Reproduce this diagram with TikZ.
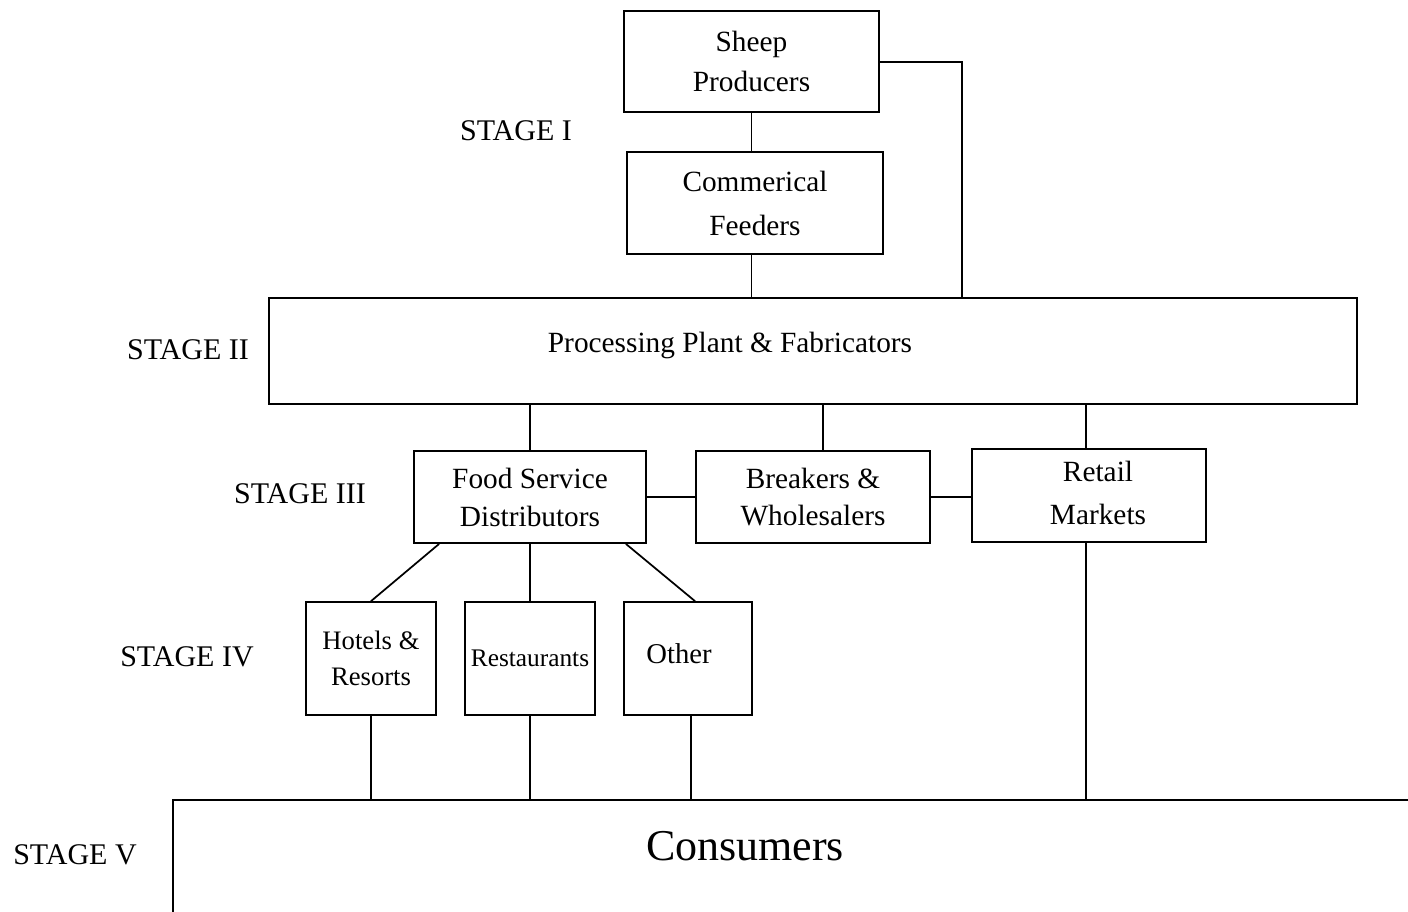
\documentclass[tikz,border=0pt]{standalone}
\usepackage{fontspec}
\setmainfont{Liberation Serif}
\usetikzlibrary{calc}
\begin{document}
\begin{tikzpicture}[x=0.75pt,y=-0.75pt,
  line width=1.3pt,
  box/.style={draw,line width=1.3pt,inner sep=0pt,align=center,rectangle},
  txt/.style={inner sep=0pt,align=center,font=\fontsize{22}{30}\selectfont},
  stagelbl/.style={inner sep=0pt,font=\fontsize{22.5}{27}\selectfont},
  link/.style={line width=1.3pt}]
\useasboundingbox (0,0) rectangle (1408,911);
% Stage I
\node[box,minimum width=255*0.75pt,minimum height=101*0.75pt,font=\fontsize{22}{30}\selectfont] (sheep) at (751.5,61.5) {Sheep\\Producers};
\node[box,minimum width=256*0.75pt,minimum height=102*0.75pt,font=\fontsize{22}{33}\selectfont] (feeders) at (755,203) {Commerical\\Feeders};
% Stage II
\node[box,minimum width=1088*0.75pt,minimum height=106*0.75pt] (proc) at (813,351) {};
\node[txt] (proctext) at (730,345) {Processing Plant \& Fabricators};
% Stage III
\node[box,minimum width=232*0.75pt,minimum height=92*0.75pt,font=\fontsize{22}{28.5}\selectfont] (food) at (530,497) {Food Service\\Distributors};
\node[box,minimum width=234*0.75pt,minimum height=92*0.75pt,font=\fontsize{22}{28}\selectfont] (breakers) at (813,497) {Breakers \&\\Wholesalers};
\node[box,minimum width=234*0.75pt,minimum height=93*0.75pt] (retail) at (1089,495.5) {};
\node[txt,font=\fontsize{22}{32}\selectfont] (retailtext) at (1098,493) {Retail\\Markets};
% Stage IV
\node[box,minimum width=130*0.75pt,minimum height=113*0.75pt,font=\fontsize{20}{27}\selectfont] (hotels) at (371,658.5) {Hotels \&\\Resorts};
\node[box,minimum width=130*0.75pt,minimum height=113*0.75pt,font=\fontsize{19}{24}\selectfont] (rest) at (530,658.5) {Restaurants};
\node[box,minimum width=128*0.75pt,minimum height=113*0.75pt] (other) at (688,658.5) {};
\node[txt,font=\fontsize{21.5}{26}\selectfont] (othertext) at (679,654) {Other};
% Stage V
\begin{scope}
\clip (0,0) rectangle (1408,911);
\node[box,minimum width=1257*0.75pt,minimum height=140*0.75pt] (cons) at (801.5,870) {};
\end{scope}
\node[txt,font=\fontsize{33}{36}\selectfont] (constext) at (745,846) {Consumers};
% stage labels
\node[stagelbl] (s1) at (516,131) {STAGE I};
\node[stagelbl] (s2) at (188,350) {STAGE II};
\node[stagelbl] (s3) at (300,494) {STAGE III};
\node[stagelbl] (s4) at (187,657) {STAGE IV};
\node[stagelbl] (s5) at (75,855) {STAGE V};
% helper coordinates
\coordinate (bend) at (962,62);
\coordinate (xb) at (823,0);
\coordinate (xr) at (1086,0);
% connectors
\draw[link] (sheep.south) -- (sheep.south |- feeders.north);
\draw[link] (feeders.south -| sheep.south) -- (sheep.south |- proc.north);
\draw[link] (sheep.east |- bend) -- (bend) -- (bend |- proc.north);
\draw[link] (food.north |- proc.south) -- (food.north);
\draw[link] (xb |- proc.south) -- (xb |- breakers.north);
\draw[link] (xr |- proc.south) -- (xr |- retail.north);
\draw[link] (food.east) -- (food.east -| breakers.west);
\draw[link] (breakers.east) -- (breakers.east -| retail.west);
\draw[link] ($(food.south west)+(26,0)$) -- (hotels.north);
\draw[link] (food.south) -- (rest.north);
\draw[link] ($(food.south east)+(-21,0)$) -- ($(other.north)+(7,0)$);
\draw[link] (hotels.south) -- (hotels.south |- cons.north);
\draw[link] (rest.south) -- (rest.south |- cons.north);
\draw[link] ($(other.south)+(3,0)$) -- ($(other.south |- cons.north)+(3,0)$);
\draw[link] (xr |- retail.south) -- (xr |- cons.north);
\end{tikzpicture}
\end{document}
